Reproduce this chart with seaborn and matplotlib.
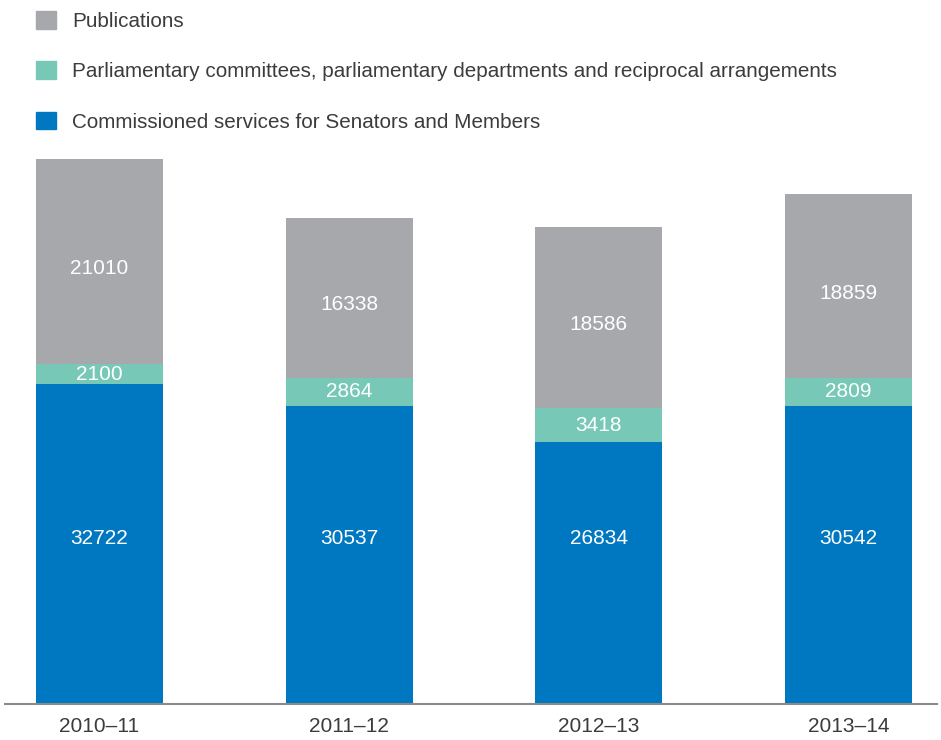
import matplotlib
matplotlib.use('Agg')
import matplotlib.pyplot as plt
from matplotlib.patches import Patch
import numpy as np
import pandas as pd
import seaborn as sns

# data
years = ['2010–11', '2011–12', '2012–13', '2013–14']
commissioned = [32722, 30537, 26834, 30542]
committees = [2100, 2864, 3418, 2809]
publications = [21010, 16338, 18586, 18859]

labels = ['Publications',
          'Parliamentary committees, parliamentary departments and reciprocal arrangements',
          'Commissioned services for Senators and Members']
c_pub = '#A7A8AC'
c_com = '#78C8B8'
c_blue = '#0078C1'
text_col = '#3c3c3c'

sns.set_theme(style='white')
plt.rcParams['font.family'] = ['Liberation Sans', 'DejaVu Sans']

df = pd.DataFrame({'year': years, 'blue': commissioned,
                   'teal': committees, 'grey': publications})
df['mid'] = df['blue'] + df['teal']
df['top'] = df['mid'] + df['grey']

fig = plt.figure(figsize=(9.41, 7.4), dpi=100)
ax = fig.add_axes([5 / 941, 36.5 / 740, 932 / 941, (703.5 - 159) / 740])

# stacked: draw cumulative totals from top down
for col, c in [('top', c_pub), ('mid', c_com), ('blue', c_blue)]:
    sns.barplot(data=df, x='year', y=col, color=c, width=0.508, ax=ax,
                saturation=1, linewidth=0)

# blue labels sit on one common line in the original
blue_label_y = 16900
for i in range(len(years)):
    ax.text(i, blue_label_y, str(commissioned[i]), ha='center', va='center',
            color='white', fontsize=15)
    ax.text(i, df['blue'][i] + df['teal'][i] / 2, str(committees[i]), ha='center',
            va='center', color='white', fontsize=15)
    ax.text(i, df['mid'][i] + df['grey'][i] / 2 - 700, str(publications[i]), ha='center',
            va='center', color='white', fontsize=15)

ax.set_xlim(-0.378, 3.354)
ax.set_ylim(0, df['top'].max())
ax.set_xlabel('')
ax.set_ylabel('')
ax.set_yticks([])
for s in ['top', 'right', 'left']:
    ax.spines[s].set_visible(False)
ax.spines['bottom'].set_color('#8a8a8a')
ax.spines['bottom'].set_linewidth(1.5)
ax.tick_params(axis='x', length=0, pad=10, labelsize=15, labelcolor=text_col)

handles = [Patch(color=c) for c in [c_pub, c_com, c_blue]]
leg = fig.legend(handles, labels, loc='upper left', bbox_to_anchor=(36 / 941, 1 - 11 / 740),
                 frameon=False, fontsize=14.9, handlelength=0.95, handleheight=0.95,
                 handletextpad=0.8, labelspacing=1.46, borderpad=0, borderaxespad=0)
for t in leg.get_texts():
    t.set_color(text_col)

fig.savefig('out.png', dpi=100)
